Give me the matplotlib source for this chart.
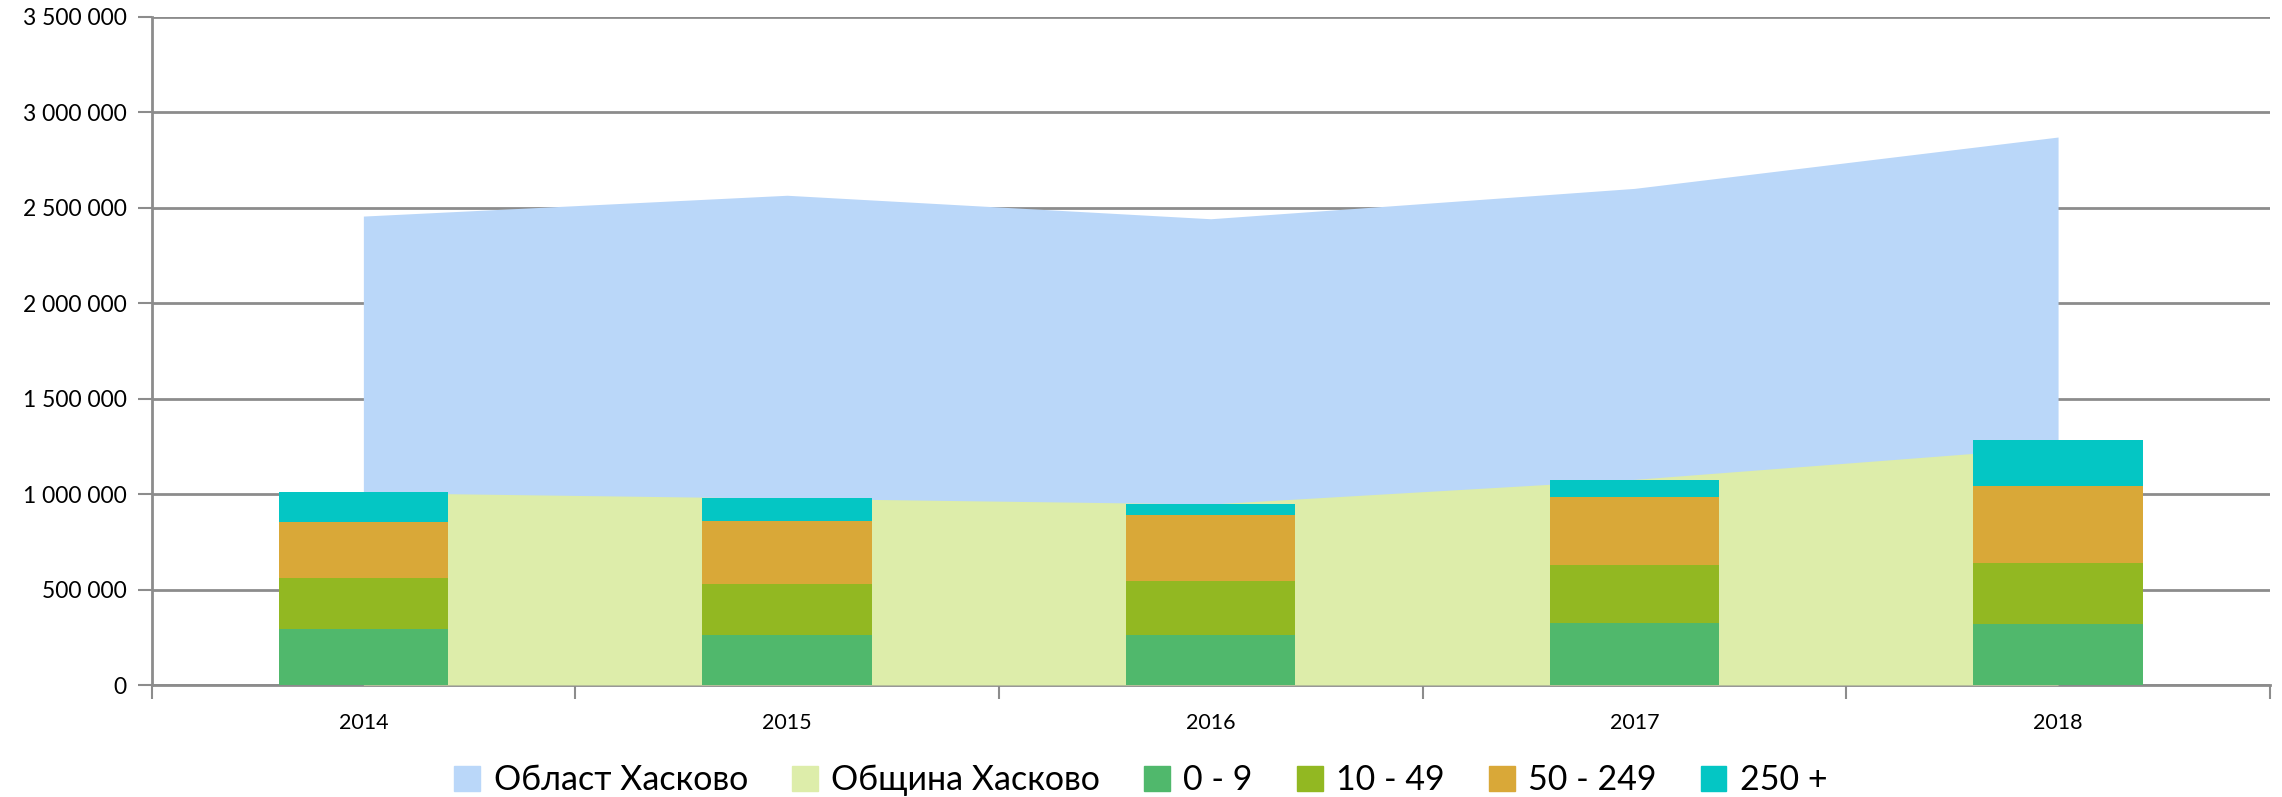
import matplotlib
matplotlib.use("Agg")
import matplotlib.pyplot as plt
from matplotlib.ticker import FuncFormatter, FixedLocator
from matplotlib.patches import Patch

years = ["2014", "2015", "2016", "2017", "2018"]
oblast = [2456000, 2565000, 2442000, 2601000, 2870000]
obshtina = [1008000, 978000, 948000, 1077000, 1247000]
s0_9 = [293000, 260000, 260000, 325000, 317000]
s10_49 = [269000, 268000, 284000, 301000, 321000]
s50_249 = [290000, 330000, 344000, 358000, 402000]
s250 = [160000, 119000, 58000, 90000, 245000]

c_oblast = "#BAD7F9"
c_obsh = "#DDEDAA"
c_bars = ["#50B86C", "#92B822", "#D9A838", "#04C6C4"]
bar_labels = ["0 - 9", "10 - 49", "50 - 249", "250 +"]

plt.rcParams['font.family'] = ['Lato', 'DejaVu Sans']

fig = plt.figure(figsize=(22.82, 7.97), dpi=100)
ax = fig.add_axes([0.0664, 0.1405, 0.9283, 0.8385])

x = list(range(len(years)))
ax.fill_between(x, 0, oblast, color=c_oblast, linewidth=0, zorder=2)
ax.fill_between(x, 0, obshtina, color=c_obsh, linewidth=0, zorder=3)

bottom = [0] * len(years)
for vals, col in zip([s0_9, s10_49, s50_249, s250], c_bars):
    ax.bar(x, vals, width=0.4, bottom=bottom, color=col, linewidth=0, zorder=4)
    bottom = [b + v for b, v in zip(bottom, vals)]

ax.set_xlim(-0.5, len(years) - 0.5)
ax.set_ylim(0, 3500000)
ax.set_yticks(range(0, 3500001, 500000))
ax.yaxis.set_major_formatter(FuncFormatter(lambda v, p: f"{int(v):,}".replace(",", " ")))
ax.yaxis.grid(True, color="#8C8C8C", linewidth=2, zorder=0)
ax.set_axisbelow(True)

ax.set_xticks(x)
ax.set_xticklabels(years)
ax.xaxis.set_minor_locator(FixedLocator([i - 0.5 for i in range(len(years) + 1)]))
ax.tick_params(axis="x", which="major", length=0, pad=20, labelsize=15.5)
ax.tick_params(axis="x", which="minor", length=10, width=1.5, color="#8C8C8C")
ax.tick_params(axis="y", length=10, width=1.5, color="#8C8C8C", labelsize=16.5, pad=8)

for s in ["top", "right"]:
    ax.spines[s].set_visible(False)
for s in ["left", "bottom"]:
    ax.spines[s].set_color("#8C8C8C")
    ax.spines[s].set_linewidth(2)

handles = [Patch(color=c_oblast, label="Област Хасково"),
           Patch(color=c_obsh, label="Община Хасково")]
handles += [Patch(color=c, label=l) for c, l in zip(c_bars, bar_labels)]
fig.legend(handles=handles, loc="center", bbox_to_anchor=(0.5, 0.021), ncol=6,
           frameon=False, fontsize=24.5, handlelength=0.75, handleheight=0.75,
           handletextpad=0.4, columnspacing=1.3)

fig.savefig("out.png", dpi=100, facecolor="white")
